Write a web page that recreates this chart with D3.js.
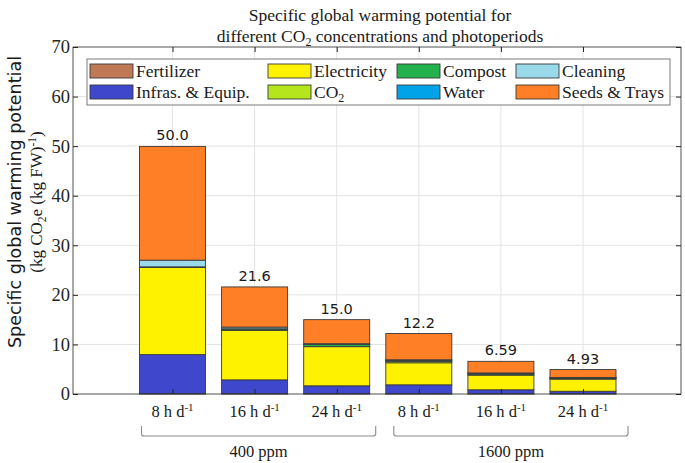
<!DOCTYPE html>
<html>
<head>
<meta charset="utf-8">
<script src="https://cdn.jsdelivr.net/npm/d3@7"></script>
<style>
  body { margin: 0; background: #fff; }
  svg { display: block; }
</style>
</head>
<body>
<svg id="chart" width="685" height="463"></svg>
<script>
const periods = ["8", "16", "24", "8", "16", "24"]
const groups = [{ name: "400 ppm", from: 0, to: 2 }, { name: "1600 ppm", from: 3, to: 5 }]
const series = ["Fertilizer", "Infras. & Equip.", "Electricity", "CO2", "Compost", "Water", "Cleaning", "Seeds & Trays"]
const colors = ["#bf7a55", "#3f48cc", "#fff200", "#b5e61d", "#22b14c", "#00a2e8", "#99d9ea", "#ff7f27"]

// one array per source, one value per bar
const fertilizer = [0.05, 0.05, 0.05, 0.05, 0.05, 0.05]
const infras = [7.9, 2.8, 1.6, 1.8, 0.8, 0.5]
const electricity = [17.6, 10.0, 7.9, 4.45, 2.95, 2.45]
const co2 = [0, 0, 0, 0.3, 0.2, 0.15]
const compost = [0.05, 0.25, 0.45, 0.2, 0.15, 0.1]
const water = [0.05, 0.05, 0.05, 0.05, 0.05, 0.05]
const cleaning = [1.35, 0.35, 0.1, 0.05, 0.05, 0.03]
const seeds = [22.95, 8.1, 4.85, 5.3, 2.34, 1.6]
const totals = ["50.0", "21.6", "15.0", "12.2", "6.59", "4.93"]
const yTicks = [0, 10, 20, 30, 40, 50, 60, 70]

const values = [fertilizer, infras, electricity, co2, compost, water, cleaning, seeds]
const rows = periods.map((p, i) => {
    const r = { id: i }
    series.forEach((s, k) => r[s] = values[k][i])
    return r
})

const serif = "'Liberation Serif', 'DejaVu Serif', serif"
const plotL = 73, plotR = 681, plotT = 47, plotB = 394
const axisColor = "#262626"

const svg = d3.select("#chart")

const x = d3.scalePoint().domain(d3.range(periods.length)).range([172.5, 583])
const barW = 66
const y = d3.scaleLinear().domain([0, 70]).range([plotB, plotT])

// grid
svg.append("g")
    .selectAll("line")
    .data(yTicks.slice(1, -1))
    .join("line")
    .attr("x1", plotL).attr("x2", plotR)
    .attr("y1", d => y(d)).attr("y2", d => y(d))
    .attr("stroke", "#e3e3e3")
svg.append("g")
    .selectAll("line")
    .data(x.domain())
    .join("line")
    .attr("x1", d => x(d)).attr("x2", d => x(d))
    .attr("y1", plotT).attr("y2", plotB)
    .attr("stroke", "#e3e3e3")

// stacked bars
const stack = d3.stack().keys(series)(rows)
svg.append("g")
    .selectAll("g")
    .data(stack)
    .join("g")
    .attr("fill", (d, i) => colors[i])
    .selectAll("rect")
    .data(d => d)
    .join("rect")
    .attr("x", d => x(d.data.id) - barW / 2)
    .attr("width", barW)
    .attr("y", d => y(d[1]))
    .attr("height", d => y(d[0]) - y(d[1]))
    .attr("stroke", "#3a3a3a")
    .attr("stroke-width", 0.9)

// total labels
svg.append("g")
    .selectAll("text")
    .data(rows)
    .join("text")
    .attr("x", d => x(d.id))
    .attr("y", d => y(d3.sum(series, s => d[s])) - 6)
    .attr("text-anchor", "middle")
    .attr("font-family", "'DejaVu Sans', sans-serif")
    .attr("font-size", 14.5)
    .attr("fill", "#1a1a1a")
    .text((d, i) => totals[i])

// axes frame and ticks
const yl = d3.axisLeft(y).tickValues(yTicks).tickSizeInner(-5).tickSizeOuter(0).tickPadding(3)
const gy = svg.append("g").attr("transform", `translate(${plotL},0)`).call(yl)
gy.selectAll("text").attr("font-family", serif).attr("font-size", 18.5).attr("fill", axisColor)
gy.selectAll("line").attr("stroke", axisColor)
const yr = d3.axisRight(y).tickValues(yTicks).tickSizeInner(-5).tickSizeOuter(0).tickFormat("")
svg.append("g").attr("transform", `translate(${plotR},0)`).call(yr)
    .selectAll("line").attr("stroke", axisColor)

const xb = d3.axisBottom(x).tickSizeInner(-5).tickSizeOuter(0).tickFormat("")
svg.append("g").attr("transform", `translate(0,${plotB})`).call(xb)
    .selectAll("line").attr("stroke", axisColor)
const xt = d3.axisTop(x).tickSizeInner(-5).tickSizeOuter(0).tickFormat("")
svg.append("g").attr("transform", `translate(0,${plotT})`).call(xt)
    .selectAll("line").attr("stroke", axisColor)
svg.selectAll(".domain").remove()
svg.append("rect")
    .attr("x", plotL).attr("y", plotT)
    .attr("width", plotR - plotL).attr("height", plotB - plotT)
    .attr("fill", "none").attr("stroke", axisColor).attr("stroke-width", 0.8)

// x labels with superscript
const xl = svg.append("g")
    .selectAll("text")
    .data(periods)
    .join("text")
    .attr("x", (d, i) => x(i))
    .attr("y", 417)
    .attr("text-anchor", "middle")
    .attr("font-family", serif)
    .attr("font-size", 16.5)
    .attr("fill", "#1a1a1a")
xl.append("tspan").text(d => d + " h d")
xl.append("tspan").attr("dy", -6).attr("font-size", 11).text("-1")

// group braces
const brace = svg.append("g")
groups.forEach((g, gi) => {
    const x0 = x(g.from) - 31 + gi * 6, x1 = x(g.to) + 39 + gi * 6
    const yb = 436, yt = 426
    brace.append("path")
        .attr("d", `M${x0},${yt} L${x0},${yb - 2} Q${x0},${yb} ${x0 + 3},${yb} L${x1 - 3},${yb} Q${x1},${yb} ${x1},${yb - 2} L${x1},${yt}`)
        .attr("fill", "none").attr("stroke", "#8c8c8c").attr("stroke-width", 1.1)
    brace.append("text")
        .attr("x", (x0 + x1) / 2)
        .attr("y", 457)
        .attr("text-anchor", "middle")
        .attr("font-family", serif)
        .attr("font-size", 16.5)
        .attr("fill", "#1a1a1a")
        .text(g.name)
})

// legend
const lg = svg.append("g")
lg.append("rect")
    .attr("x", 87).attr("y", 59).attr("width", 583).attr("height", 46)
    .attr("fill", "#fff").attr("stroke", "#7a7a7a").attr("stroke-width", 1)
const colX = [90, 268, 397, 516]
series.forEach((s, k) => {
    const cx = colX[Math.floor(k / 2)]
    const cy = k % 2 === 0 ? 71 : 92
    lg.append("rect")
        .attr("x", cx).attr("y", cy - 7).attr("width", 43).attr("height", 14)
        .attr("fill", colors[k]).attr("stroke", "#3a3a3a").attr("stroke-width", 0.9)
    const t = lg.append("text")
        .attr("x", cx + 46).attr("y", cy + 6)
        .attr("font-family", serif)
        .attr("font-size", 17.5)
        .attr("fill", "#1a1a1a")
    if (s === "CO2") {
        t.append("tspan").text("CO")
        t.append("tspan").attr("dy", 4).attr("font-size", 12).text("2")
    } else {
        t.text(s)
    }
})

// title
const title = svg.append("g").attr("font-family", serif).attr("font-size", 17.5).attr("fill", "#1a1a1a").attr("text-anchor", "middle")
title.append("text").attr("x", 380).attr("y", 21).text("Specific global warming potential for")
const t2 = title.append("text").attr("x", 380).attr("y", 42)
t2.append("tspan").text("different CO")
t2.append("tspan").attr("dy", 4).attr("font-size", 12).text("2")
t2.append("tspan").attr("dy", -4).text(" concentrations and photoperiods")

// y label
const ylab = svg.append("g").attr("transform", "translate(0,202) rotate(-90)").attr("text-anchor", "middle").attr("fill", "#1a1a1a")
ylab.append("text").attr("x", 0).attr("y", 21)
    .attr("font-family", "'DejaVu Sans', sans-serif").attr("font-size", 17.5)
    .text("Specific global warming potential")
const l2 = ylab.append("text").attr("x", 0).attr("y", 42).attr("font-family", serif).attr("font-size", 17)
l2.append("tspan").text("(kg CO")
l2.append("tspan").attr("dy", 4).attr("font-size", 11.5).text("2")
l2.append("tspan").attr("dy", -4).text("e (kg FW)")
l2.append("tspan").attr("dy", -6).attr("font-size", 11.5).text("-1")
l2.append("tspan").attr("dy", 6).text(")")
</script>
</body>
</html>
